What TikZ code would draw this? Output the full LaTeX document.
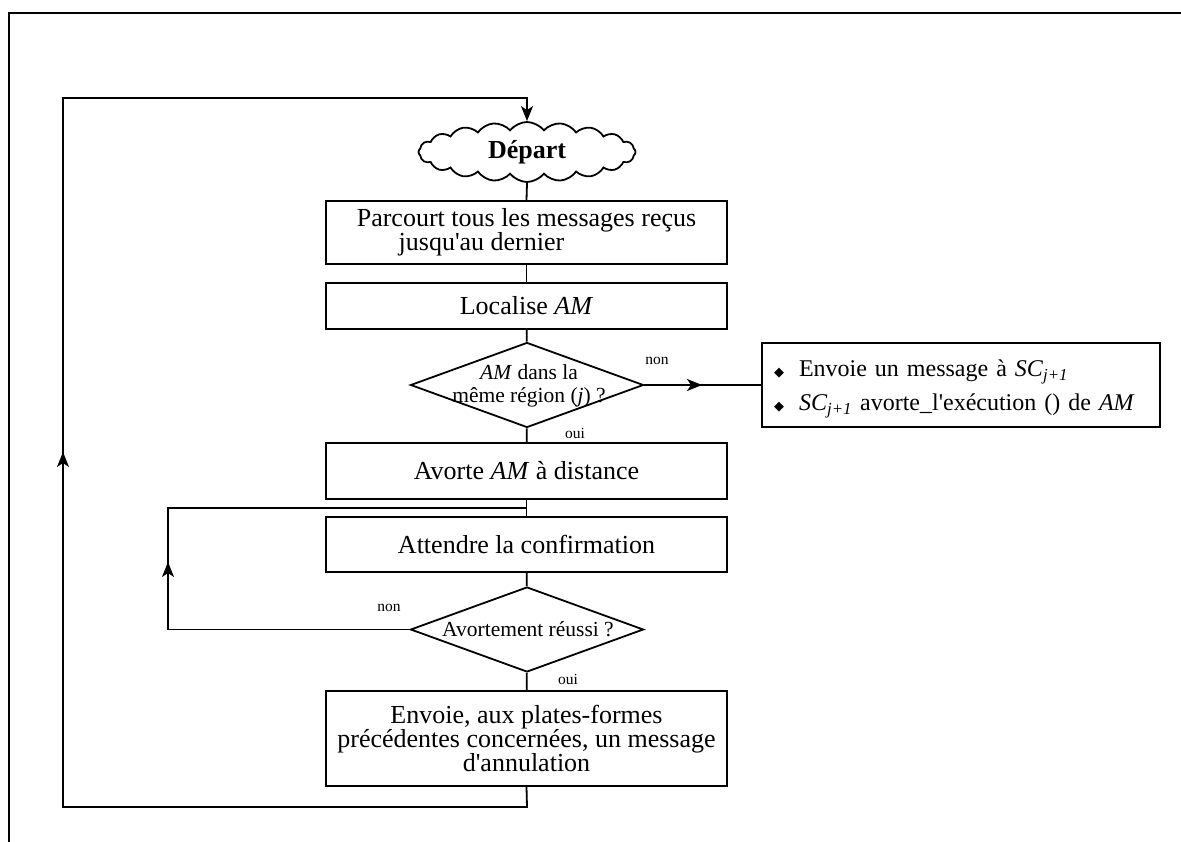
\documentclass[tikz,border=0pt]{standalone}
\usepackage{fontspec}
\setmainfont{Liberation Serif}
\newfontfamily\symfont{DejaVu Sans}
\usetikzlibrary{shapes.geometric,shapes.symbols,arrows.meta}
\newcommand{\sidebullet}{{\symfont\fontsize{13}{13}\selectfont ◆}}
\newcommand{\apos}{\textquotesingle}

\begin{document}
\begin{tikzpicture}[x=1pt,y=-1pt,
  line width=1.8pt,
  stepbox/.style={draw,rectangle,minimum width=401pt,inner sep=0pt,align=center,
    font=\fontsize{26}{24}\selectfont},
  decide/.style={draw,diamond,minimum width=233pt,minimum height=85pt,inner sep=0pt},
  dtext/.style={align=center,inner sep=0pt,font=\fontsize{21.5}{23}\selectfont},
  lbl/.style={inner sep=0pt,font=\fontsize{15.5}{16}\selectfont},
  tip/.style={-{Stealth[length=15pt,width=12pt,inset=4pt]}},
]
\useasboundingbox (0,0) rectangle (1181,842);

% page frame (top and left edges)
\coordinate (fb) at (9,842);
\coordinate (ftl) at (9,13);
\coordinate (fr) at (1181,13);
\draw (fb) -- (ftl) -- (fr);

% start
\node[draw,cloud,cloud puffs=20,cloud puff arc=105,cloud ignores aspect,
      minimum width=217pt,minimum height=60pt,inner sep=0pt,
      font=\bfseries\fontsize{26}{26}\selectfont] (start) at (527,152) {Départ};

% steps
\node[stepbox,minimum height=63pt] (b1) at (526.5,232.5)
  {Parcourt tous les messages reçus\\jusqu\apos au dernier\hspace*{90pt}};
\node[stepbox,minimum height=46pt] (b2) at (526.5,306) {Localise \textit{AM}};
\node[decide] (d1) at (527,385) {};
\node[dtext] (d1t) at (529,386) {\textit{AM} dans la\\même région (\textit{j}) ?};
\node[stepbox,minimum height=56pt] (b3) at (526.5,471) {Avorte \textit{AM} à distance};
\node[stepbox,minimum height=55pt] (b4) at (526.5,544.5) {Attendre la confirmation};
\node[decide] (d2) at (527,629.5) {};
\node[dtext] (d2t) at (528,629) {Avortement réussi ?};
\node[stepbox,minimum height=95pt] (b5) at (526.5,738.5)
  {Envoie, aux plates-formes\\précédentes concernées, un message\\d\apos annulation};

% remote abort branch
\node[draw,rectangle,minimum width=398pt,minimum height=84pt,inner sep=0pt] (side) at (961,385) {};
\node[text width=378pt,inner sep=0pt,align=left,
      font=\fontsize{24}{34}\selectfont] (sidet) at (963,389)
  {\sidebullet\hspace{15pt}Envoie un message à \textit{SC}\textsubscript{\textit{j+1}}\\
   \sidebullet\hspace{15pt}\textit{SC}\textsubscript{\textit{j+1}} avorte\_l\apos exécution () de \textit{AM}};

% straight connectors
\draw (start.south) -- (b1.north);
\draw (b1) -- (b2);
\draw (b2) -- (d1);
\draw (d1) -- (b3);
\draw (b3) -- (b4);
\draw (b4) -- (d2);
\draw (d2) -- (b5);

% "non" branch of the first test
\coordinate (sidemid) at (702,385);
\draw (d1.east) -- (side.west);
\draw[tip] (d1.east) -- (sidemid);

% retry loop
\coordinate (rtop) at (168,508);
\coordinate (rmid) at (168,562);
\coordinate (rjoin) at (527,508);
\draw (d2.west) -| (rtop) -- (rjoin);
\draw[tip] (d2.west -| rtop) -- (rmid);

% outer loop back to the start
\coordinate (lb) at (527,807);
\coordinate (ll) at (63,807);
\coordinate (lm) at (63,452);
\coordinate (lt) at (63,98);
\coordinate (ct) at (527,98);
\draw[tip] (b5.south) -- (lb) -- (ll) -- (lt) -- (ct) -- (start.north);
\draw[tip] (ll) -- (lm);

% branch labels
\node[lbl] (n1) at (657,361) {non};
\node[lbl] (o1) at (575,433) {oui};
\node[lbl] (n2) at (389,608) {non};
\node[lbl] (o2) at (568,679) {oui};
\end{tikzpicture}
\end{document}
